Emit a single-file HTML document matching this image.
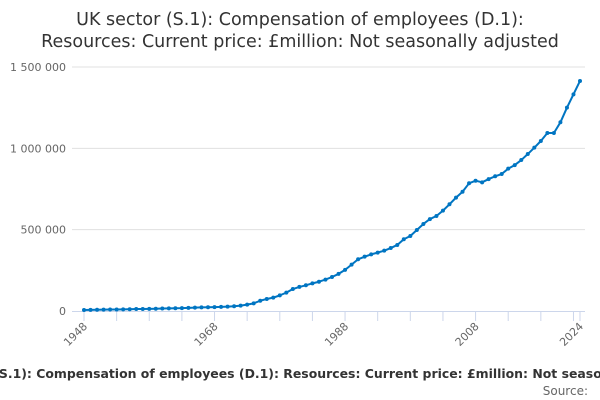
<!DOCTYPE html>
<html><head><meta charset="utf-8"><style>
html,body{margin:0;padding:0;background:#fff;}
svg{display:block;font-family:"DejaVu Sans","Liberation Sans",sans-serif;}
</style></head><body>
<svg id="chart" width="600" height="400" viewBox="0 0 600 400" xmlns="http://www.w3.org/2000/svg">
<text x="300" y="25" text-anchor="middle" font-size="17.5" fill="#333">UK sector (S.1): Compensation of employees (D.1):</text>
<text x="300" y="47" text-anchor="middle" font-size="17.5" fill="#333">Resources: Current price: £million: Not seasonally adjusted</text>
<g id="grid"></g>
<g id="yticks"></g>
<g id="xaxis"></g>
<g id="series"></g>
<text x="-79" y="378" font-size="12.45" font-weight="bold" fill="#333">UK sector (S.1): Compensation of employees (D.1): Resources: Current price: £million: Not seasonally adjusted</text>
<text x="588" y="395" text-anchor="end" font-size="12" fill="#666">Source:</text>
</svg>
<script>
const years = [];
for (let y = 1948; y <= 2024; y++) years.push(y);
const values = [6000,7000,7500,8300,9000,9500,10000,11000,12000,12600,13000,14000,15000,16000,17000,17500,19000,20500,22000,23000,24000,25000,27000,29000,33000,39000,47000,63000,74000,82000,96000,113000,135000,148000,158000,170000,180000,193000,209000,228000,253000,285000,318000,334000,348000,359000,371000,387000,406000,441000,461000,498000,535000,565000,584000,617000,656000,697000,733000,785000,801000,791000,811000,828000,842000,875000,897000,928000,965000,1004000,1045000,1094000,1094000,1160000,1250000,1332000,1414000];
const yTicks = [0,500000,1000000,1500000];
const yTickLabels = ["0","500 000","1 000 000","1 500 000"];
const xLabelYears = [1948,1968,1988,2008,2024];

const NS = "http://www.w3.org/2000/svg";
const x0 = 84, x1 = 580, yBase = 311, yTop = 67;
function xs(yr){ return x0 + (yr - 1948) * (x1 - x0) / (2024 - 1948); }
function ys(v){ return yBase - v * (yBase - yTop) / 1500000; }
function mk(tag, attrs, parent){ const e = document.createElementNS(NS, tag); for (const k in attrs) e.setAttribute(k, attrs[k]); parent.appendChild(e); return e; }

const grid = document.getElementById('grid');
const yt = document.getElementById('yticks');
yTicks.forEach((v, i) => {
  if (v > 0) {
    const l = mk('line', {x1: 72, x2: 585, y1: ys(v), y2: ys(v), stroke: '#e0e0e0', 'stroke-width': 1}, grid);
    
    
  }
  const t = mk('text', {x: 66, y: ys(v) + 4, 'text-anchor': 'end', 'font-size': 11, fill: '#666'}, yt);
  t.textContent = yTickLabels[i];
  
  
});

const xa = document.getElementById('xaxis');
const axl = mk('line', {x1: 72, x2: 585, y1: yBase + 0.5, y2: yBase + 0.5, stroke: '#ccd6eb', 'stroke-width': 1}, xa);


for (let yr = 1948; yr <= 2024; yr += 5) {
  const tk = mk('line', {x1: xs(yr), x2: xs(yr), y1: yBase, y2: yBase + 10, stroke: '#ccd6eb', 'stroke-width': 1}, xa);
  
  
}
const tkEnd = mk('line', {x1: xs(2024), x2: xs(2024), y1: yBase, y2: yBase + 10, stroke: '#ccd6eb', 'stroke-width': 1}, xa);


xLabelYears.forEach(yr => {
  const t = mk('text', {x: xs(yr) + 4, y: yBase + 16, 'text-anchor': 'end', 'font-size': 11, fill: '#666', transform: `rotate(-45 ${xs(yr) + 4} ${yBase + 16})`}, xa);
  t.textContent = String(yr);
  
  
});

const s = document.getElementById('series');
const pts = years.map((yr, i) => xs(yr).toFixed(2) + ',' + ys(values[i]).toFixed(2)).join(' ');
const pl = mk('polyline', {points: pts, fill: 'none', stroke: '#0075c2', 'stroke-width': 2, 'stroke-linejoin': 'round'}, s);


years.forEach((yr, i) => {
  const c = mk('circle', {cx: xs(yr), cy: ys(values[i]), r: 2, fill: '#0075c2'}, s);
  
  
});
</script>
</body></html>
